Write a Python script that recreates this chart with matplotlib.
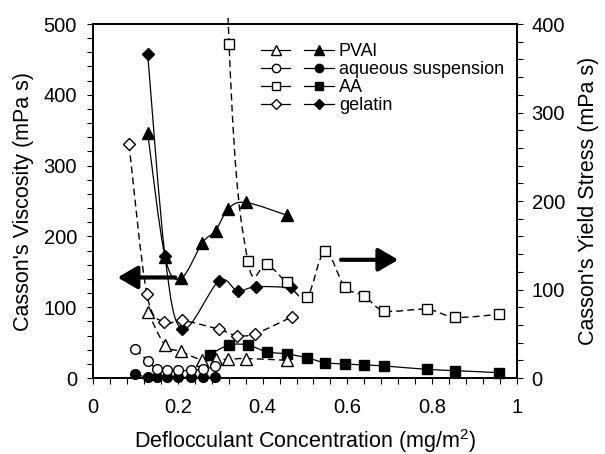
import matplotlib
matplotlib.use("Agg")
import matplotlib.pyplot as plt
from matplotlib.path import Path
from matplotlib.patches import PathPatch, Rectangle
from matplotlib.lines import Line2D
from matplotlib.legend_handler import HandlerTuple
from matplotlib.ticker import MultipleLocator, FuncFormatter

plt.rcParams["font.family"] = ["Liberation Sans", "DejaVu Sans"]
plt.rcParams["mathtext.fontset"] = "custom"
plt.rcParams["mathtext.rm"] = "Liberation Sans"

# viscosity (left axis, filled markers) and yield stress (right axis, open markers)
pval_x = [0.129, 0.170, 0.208, 0.258, 0.289, 0.319, 0.360, 0.457]
pval_visc = [346, 171, 141, 191, 208, 239, 248, 230]
pval_yield = [75, 37, 30, 20, 21, 21, 22, 20]

aq_x = [0.100, 0.129, 0.151, 0.174, 0.201, 0.230, 0.260, 0.288]
aq_visc = [5.5, 1, 1, 1, 1, 1, 1, 1]
aq_yield = [32.5, 19.6, 10, 8.5, 8.5, 8.5, 10, 13]

aa_x = [0.275, 0.321, 0.365, 0.410, 0.457, 0.504, 0.547, 0.594, 0.640, 0.687, 0.788, 0.855, 0.958]
aa_visc = [33, 46.6, 46.6, 37, 34, 28.7, 21.7, 19.8, 18.4, 17, 12.2, 10.4, 7.5]
aa_yield = [1200, 377, 132.5, 129, 108, 91, 143, 103, 93, 76, 77.6, 68.6, 72]  # first point is off scale

gel_visc_x = [0.129, 0.170, 0.211, 0.297, 0.341, 0.384, 0.467]
gel_visc = [458, 172, 69, 137, 123, 129, 128]
gel_yield_x = [0.085, 0.127, 0.168, 0.211, 0.297, 0.339, 0.382, 0.469]
gel_yield = [264, 95, 63, 65, 55, 48, 50, 69]

labels = ["PVAl", "aqueous suspension", "AA", "gelatin"]


def smooth_path(x, y):
    # Catmull-Rom style bezier through the points
    n = len(x)
    verts = [(x[0], y[0])]
    codes = [Path.MOVETO]
    for i in range(n - 1):
        a = max(i - 1, 0)
        d = min(i + 2, n - 1)
        c1 = (x[i] + (x[i + 1] - x[a]) / 6, y[i] + (y[i + 1] - y[a]) / 6)
        c2 = (x[i + 1] - (x[d] - x[i]) / 6, y[i + 1] - (y[d] - y[i]) / 6)
        verts += [c1, c2, (x[i + 1], y[i + 1])]
        codes += [Path.CURVE4] * 3
    return Path(verts, codes)


def draw(ax, x, y, marker, ms, filled, ymax):
    ls = "-" if filled else (0, (5, 3))
    patch = PathPatch(smooth_path(x, y), fill=False, ec="black",
                      lw=0.9 if filled else 1.0, ls=ls, zorder=2)
    ax.add_patch(patch)
    patch.set_clip_path(Rectangle((0, 0), 1, 1.017, transform=ax.transAxes))
    px = [a for a, b in zip(x, y) if b <= ymax]
    py = [b for b in y if b <= ymax]
    ax.plot(px, py, ls="none", marker=marker, ms=ms, mec="black", mew=1.0,
            mfc="black" if filled else "white", clip_on=False, zorder=3)


fig = plt.figure(figsize=(6.05, 4.54), dpi=100)
ax = fig.add_axes([0.1537, 0.1674, 0.7008, 0.7797])
ax2 = ax.twinx()

draw(ax, pval_x, pval_visc, "^", 8, True, 500)
draw(ax, aq_x, aq_visc, "o", 7, True, 500)
draw(ax, aa_x, aa_visc, "s", 7, True, 500)
draw(ax, gel_visc_x, gel_visc, "D", 6, True, 500)

draw(ax2, pval_x, pval_yield, "^", 8, False, 400)
draw(ax2, aq_x, aq_yield, "o", 7, False, 400)
draw(ax2, aa_x, aa_yield, "s", 7, False, 400)
draw(ax2, gel_yield_x, gel_yield, "D", 6, False, 400)

ax.set_xlim(0, 1)
ax.set_ylim(0, 500)
ax2.set_ylim(0, 400)

ax.xaxis.set_major_locator(MultipleLocator(0.2))
ax.xaxis.set_minor_locator(MultipleLocator(0.04))
ax.xaxis.set_major_formatter(FuncFormatter(lambda v, p: f"{v:g}"))
ax.yaxis.set_major_locator(MultipleLocator(100))
ax.yaxis.set_minor_locator(MultipleLocator(20))
ax2.yaxis.set_major_locator(MultipleLocator(100))
ax2.yaxis.set_minor_locator(MultipleLocator(20))

for a in (ax, ax2):
    a.tick_params(which="both", direction="out", labelsize=14.5, width=0.8)
    a.tick_params(which="major", length=4.5)
    a.tick_params(which="minor", length=4)
    for s in a.spines.values():
        s.set_linewidth(1.3)
ax.tick_params(axis="x", pad=10)
ax.tick_params(axis="y", pad=7)
ax2.tick_params(axis="y", pad=6)

ax.set_xlabel("Deflocculant Concentration (mg/m$^{2}$)", fontsize=15.5, labelpad=7)
ax.set_ylabel("Casson's Viscosity (mPa s)", fontsize=15.5, labelpad=7)
ax2.set_ylabel("Casson's Yield Stress (mPa s)", fontsize=15.5, labelpad=9)

# arrows showing which axis each set of curves belongs to
arrow = dict(arrowstyle="-|>,head_length=0.6,head_width=0.35",
             lw=3, color="black", mutation_scale=20, shrinkA=0, shrinkB=0)
ax.annotate("", xy=(0.058, 142), xytext=(0.194, 142), arrowprops=arrow)
ax.annotate("", xy=(0.720, 167), xytext=(0.585, 167), arrowprops=arrow)

markers = ["^", "o", "s", "D"]
sizes = [7, 6, 6, 5]
handles = []
for m, s in zip(markers, sizes):
    h_open = Line2D([], [], color="black", lw=0.9, marker=m, ms=s, mfc="white", mec="black")
    h_fill = Line2D([], [], color="black", lw=0.9, marker=m, ms=s, mfc="black", mec="black")
    handles.append((h_open, h_fill))

ax2.legend(handles, labels, handler_map={tuple: HandlerTuple(ndivide=None, pad=0.78)},
           loc="upper left", bbox_to_anchor=(0.397, 0.945), frameon=False,
           fontsize=13, handlelength=4.0, handletextpad=0.3, labelspacing=0.05,
           borderpad=0, borderaxespad=0, numpoints=1)

fig.savefig("out.png", dpi=100)
